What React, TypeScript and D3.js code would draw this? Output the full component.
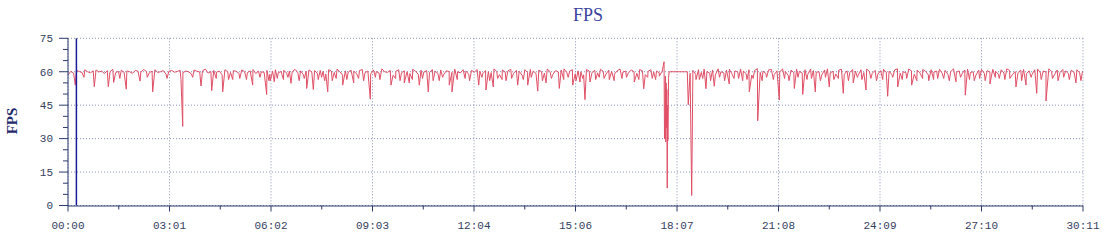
import React from "react";
import * as d3 from "d3";

// Sampled every 5 seconds (t = 0 .. 1810 s)
const baseFps: number[] = [
  58.5, 60.2, 59.4, 60.6, 60.1, 59.7, 60.9, 60.0, 59.5, 60.4,
  60.8, 59.9, 60.3, 59.2, 60.5, 60.0, 61.1, 59.6, 60.2, 60.7,
  59.8, 60.4, 60.0, 59.3, 60.6, 60.2, 59.9, 61.0, 60.1, 59.5,
  60.3, 60.9, 59.7, 60.0, 60.5, 58.9, 60.2, 60.6, 59.8, 60.1,
  60.7, 59.6, 60.3, 60.0, 59.1, 60.8, 60.2, 59.9, 60.4, 61.2,
  59.4, 60.1, 60.6, 59.8, 60.3, 58.6, 60.9, 60.0, 59.7, 60.5,
  60.2, 59.3, 60.8, 60.1, 59.6, 60.4, 61.0, 59.2, 60.3, 60.0,
  59.7, 60.6, 58.8, 60.2, 60.9, 59.5, 60.1, 60.7, 59.4, 60.3,
  60.0, 61.1, 59.6, 60.4, 58.7, 60.2, 60.8, 59.9, 60.5, 59.3,
  60.6, 60.1, 59.0, 60.9, 60.3, 59.7, 61.2, 60.0, 58.5, 60.4,
  59.8, 60.7, 60.2, 59.1, 60.5, 61.0, 59.6, 60.3, 58.9, 60.8,
  60.1, 59.4, 61.3, 60.0, 59.7, 60.6, 58.4, 60.2, 60.9, 59.5,
  60.4, 60.0, 59.2, 61.1, 60.3, 58.8, 60.7, 59.9, 60.5, 59.6,
  61.0, 60.2, 59.3, 60.8, 58.6, 60.4, 60.1, 59.7, 61.2, 60.0,
  59.5, 60.9, 60.3, 58.9, 60.6, 59.8, 61.0, 60.2, 59.1, 60.5,
  60.0, 59.6, 61.3, 60.1, 58.7, 60.8, 59.9, 60.4, 61.1, 59.3,
  60.6, 60.2, 58.5, 60.9, 59.7, 61.0, 60.3, 59.2, 60.7, 60.0,
  59.4, 61.2, 60.1, 58.8, 60.5, 59.9, 60.8, 61.3, 59.6, 60.2,
  60.9, 59.1, 60.4, 60.0, 58.6, 61.0, 60.3, 59.7, 60.6, 59.5,
  61.1, 60.2, 59.0, 60.7, 60.1, 58.9, 60.5, 61.2, 59.8, 60.3,
  59.6, 60.8, 60.0, 59.3, 61.0, 60.4, 58.7, 60.2, 60.9, 59.9,
  60.3, 59.5, 60.2, 31.0, 29.0, 60.0, 60.0, 60.0, 60.0, 60.0,
  60.0, 60.0, 59.3, 60.6, 58.8, 60.9, 59.7, 61.2, 60.1, 59.4,
  60.8, 58.6, 61.3, 60.0, 59.5, 60.7, 61.1, 58.9, 60.4, 59.8,
  61.2, 60.3, 59.1, 60.9, 58.5, 60.6, 61.4, 59.7, 60.2, 59.3,
  60.8, 61.0, 58.7, 60.4, 59.9, 61.3, 60.1, 58.4, 60.7, 59.6,
  61.1, 60.2, 59.4, 60.9, 58.9, 61.2, 60.5, 59.8, 60.0, 58.6,
  60.8, 61.3, 59.5, 60.2, 59.0, 60.7, 61.1, 58.8, 60.4, 59.7,
  61.0, 60.3, 58.5, 60.9, 59.6, 61.2, 60.1, 59.3, 60.6, 58.9,
  60.5, 61.1, 59.8, 60.2, 58.7, 60.8, 61.3, 59.4, 60.0, 59.6,
  61.2, 60.4, 58.9, 60.7, 59.5, 61.0, 60.2, 58.6, 60.9, 59.9,
  60.3, 61.1, 59.2, 60.6, 58.8, 60.1, 61.3, 59.7, 60.4, 59.0,
  60.8, 61.2, 59.6, 60.0, 58.5, 60.7, 61.0, 59.3, 60.5, 59.8,
  61.1, 60.2, 58.9, 60.9, 59.4, 61.3, 60.6, 58.7, 60.1, 59.6,
  60.7, 61.0, 59.2, 60.4, 58.8, 60.9, 61.2, 59.5, 60.3, 59.9,
  61.3, 60.1, 58.6, 60.8, 59.7, 61.0, 60.4, 59.1, 60.6, 59.8,
  60.9, 59.5, 60.2,
];
const baseStep = 5;

// Large frame drops (seconds, fps)
const dipTimes: number[] = [
  13, 46.9, 71.9, 81.5, 104, 128.5, 151.1, 201.6, 204.7, 237.3, 256.4, 276, 293.9,
  329.5, 354.5, 361, 368.1, 397.9, 425.9, 437.7, 458, 463.4, 490.1, 509.8, 539.4,
  576.3, 600, 608.9, 626.8, 642.8, 662.5, 680.3, 685.1, 732.8, 745.8, 758.8, 781.5,
  802.4, 820.2, 838.1, 852.9, 876.6, 900.5, 913.5, 922.4, 931.4, 947.9, 965.8, 988.4,
  1010.4, 1027.2, 1034.3, 1055, 1063.5, 1064.3, 1065.8, 1066.4, 1067.2, 1067.9, 1068.5,
  1069.2, 1069.8, 1070.6, 1071.5, 1072.5, 1106.7, 1112.8, 1120.5, 1138.3, 1153.1,
  1179.9, 1188.3, 1203.8, 1215.6, 1230.6, 1269.1, 1295.9, 1310.9, 1333.3, 1358.3,
  1383.3, 1401.1, 1423.8, 1453.6, 1462.5, 1480.4, 1505.3, 1524.9, 1535.7, 1551.7,
  1584.4, 1601, 1617, 1645, 1661.6, 1691.4, 1709.3, 1728.4, 1745, 1798.5, 1807.4,
];
const dipValues: number[] = [
  54, 53.3, 53.3, 55.2, 52.2, 55.8, 51, 56.5, 35.5, 53.6, 51.5, 51, 56.5,
  54, 49.8, 56, 55.5, 54.8, 52.5, 52, 56, 51, 54, 55, 47.7,
  54, 55, 55, 54, 51, 56, 54, 51, 54, 51.8, 53.2, 56,
  54, 54, 51.3, 55, 52.5, 54, 55.4, 47.5, 55.4, 57.5, 56.5, 57,
  55.4, 52.4, 57.5, 58, 64.5, 30, 58, 28.5, 55, 35, 52,
  7.8, 45, 30, 57, 60, 45.2, 4.5, 56.5, 52.4, 53.5,
  54.5, 57, 56, 51, 38, 47.3, 52.5, 49.8, 51, 53.2,
  50.3, 55, 51.8, 56.5, 49, 53.2, 54, 57, 56, 57,
  55.5, 49.5, 56, 54.5, 57, 53.2, 54, 50.3, 46.9, 55, 56,
];

// Small frame drops (seconds, fps)
const smallDipTimes: number[] = [
  28, 92, 141, 176, 222, 264, 286,
  306, 318, 342, 358, 373, 384, 392, 412, 421, 446, 452, 471, 478, 497, 518, 527, 548, 556, 584, 592,
  614, 632, 651, 668, 694, 708, 716, 738, 752, 766, 774, 791, 812, 826, 846, 862, 884, 892, 906,
  918, 941, 956, 974, 996, 1018, 1042, 1048,
  1126, 1132, 1146, 1162, 1171, 1196, 1211, 1222, 1238, 1246, 1258, 1278, 1286, 1302, 1318, 1326,
  1342, 1351, 1366, 1374, 1392, 1408, 1416, 1432, 1442, 1471, 1488, 1496, 1514, 1544, 1562, 1572,
  1592, 1608, 1626, 1636, 1654, 1671, 1680, 1701, 1718, 1736, 1756, 1766, 1776, 1786,
];
const smallDipValues: number[] = [
  57.5, 57, 57.5, 57, 57.5, 57, 56.5,
  57, 56.5, 57.5, 56, 57, 56.5, 57.5, 56, 57, 56.5, 57.5, 56, 57, 56.5, 57, 56, 57.5, 56.5, 57, 56,
  56.5, 57, 56, 57.5, 56.5, 57, 56, 57.5, 56, 57, 56.5, 57, 56.5, 57.5, 56, 57, 56.5, 57.5, 56,
  57, 56.5, 57, 56, 57.5, 56.5, 57, 56.5,
  56.5, 57, 56, 57.5, 56, 57, 56.5, 57, 56, 57.5, 56.5, 57, 56, 57.5, 56.5, 57,
  56, 57.5, 56.5, 57, 56, 57.5, 56.5, 57, 56, 57.5, 56.5, 57, 56, 56.5, 57, 56,
  57.5, 56.5, 57, 56, 57.5, 56.5, 57, 56, 57.5, 56.5, 57, 56, 57.5, 56.5,
];

const totalSeconds = 1811;
const xTickLabels: string[] = [
  "00:00", "03:01", "06:02", "09:03", "12:04", "15:06",
  "18:07", "21:08", "24:09", "27:10", "30:11",
];
const yTicks: number[] = [0, 15, 30, 45, 60, 75];
const markerSecond = 15;
const chartTitle = "FPS";
const yAxisTitle = "FPS";

export default function App() {
  const W = 1105;
  const H = 250;
  const left = 68;
  const right = 1083;
  const top = 38.3;
  const bottom = 205.5;

  const x = d3.scaleLinear().domain([0, totalSeconds]).range([left, right]);
  const y = d3.scaleLinear().domain([0, 75]).range([bottom, top]);

  const points: [number, number][] = baseFps
    .map((v, i) => [i * baseStep, v] as [number, number])
    .concat(dipTimes.map((t, j) => [t, dipValues[j]] as [number, number]))
    .concat(smallDipTimes.map((t, j) => [t + 0.5, smallDipValues[j]] as [number, number]))
    .sort((a, b) => a[0] - b[0]);

  const line = d3
    .line<[number, number]>()
    .x((d) => x(d[0]))
    .y((d) => y(d[1]));

  const xMajor = xTickLabels.map((_, i) => (i * totalSeconds) / (xTickLabels.length - 1));
  const xMinor = xMajor.slice(0, -1).map((v, i) => (v + xMajor[i + 1]) / 2);
  const yMinor = d3.range(0, 76, 5).filter((v) => v % 15 !== 0);

  const axisColor = "#2c3a6e";
  const gridColor = "#8a93b8";
  const labelColor = "#34405e";
  const tickFont = "'Liberation Mono', 'DejaVu Sans Mono', monospace";

  return (
    <svg
      width={W}
      height={H}
      style={{ position: "absolute", left: 0, top: 0, background: "#fff" }}
    >
      <text
        x={588}
        y={21}
        textAnchor="middle"
        fontFamily="'Liberation Serif', serif"
        fontSize={18}
        fill="#3b449e"
      >
        {chartTitle}
      </text>
      <text
        transform={`translate(17, 121) rotate(-90)`}
        textAnchor="middle"
        fontFamily="'Liberation Serif', serif"
        fontSize={15}
        fontWeight="bold"
        fill="#1f2a6b"
      >
        {yAxisTitle}
      </text>

      {yTicks.map((t) => (
        <line
          key={"hg" + t}
          x1={left}
          x2={right}
          y1={y(t)}
          y2={y(t)}
          stroke={gridColor}
          strokeWidth={1}
          strokeDasharray="1,2"
        />
      ))}
      {xMajor.map((t, i) => (
        <line
          key={"vg" + i}
          x1={x(t)}
          x2={x(t)}
          y1={top}
          y2={bottom}
          stroke={gridColor}
          strokeWidth={1}
          strokeDasharray="1,2"
        />
      ))}

      <path d={line(points) || ""} fill="none" stroke="#e04f66" strokeWidth={1} />

      <line
        x1={x(markerSecond)}
        x2={x(markerSecond)}
        y1={top}
        y2={bottom}
        stroke="#1a1a9c"
        strokeWidth={1.5}
      />

      <line x1={left} x2={left} y1={top} y2={bottom + 0.5} stroke={axisColor} strokeWidth={1} />
      {yTicks.map((t) => (
        <g key={"yt" + t}>
          <line x1={left - 9} x2={left} y1={y(t)} y2={y(t)} stroke={axisColor} />
          <text
            x={left - 15}
            y={y(t)}
            dy="0.35em"
            textAnchor="end"
            fontFamily={tickFont}
            fontSize={11}
            fill={labelColor}
          >
            {t}
          </text>
        </g>
      ))}
      {yMinor.map((t) => (
        <line key={"ym" + t} x1={left - 5} x2={left} y1={y(t)} y2={y(t)} stroke={axisColor} />
      ))}

      <line x1={left} x2={right} y1={bottom + 0.5} y2={bottom + 0.5} stroke={axisColor} strokeWidth={1} />
      {xMajor.map((t, i) => (
        <g key={"xt" + i}>
          <line x1={x(t)} x2={x(t)} y1={bottom} y2={bottom + 6} stroke={axisColor} />
          <text
            x={x(t)}
            y={228.5}
            textAnchor="middle"
            fontFamily={tickFont}
            fontSize={11}
            fill={labelColor}
          >
            {xTickLabels[i]}
          </text>
        </g>
      ))}
      {xMinor.map((t, i) => (
        <line key={"xm" + i} x1={x(t)} x2={x(t)} y1={bottom} y2={bottom + 4} stroke={axisColor} />
      ))}
    </svg>
  );
}
